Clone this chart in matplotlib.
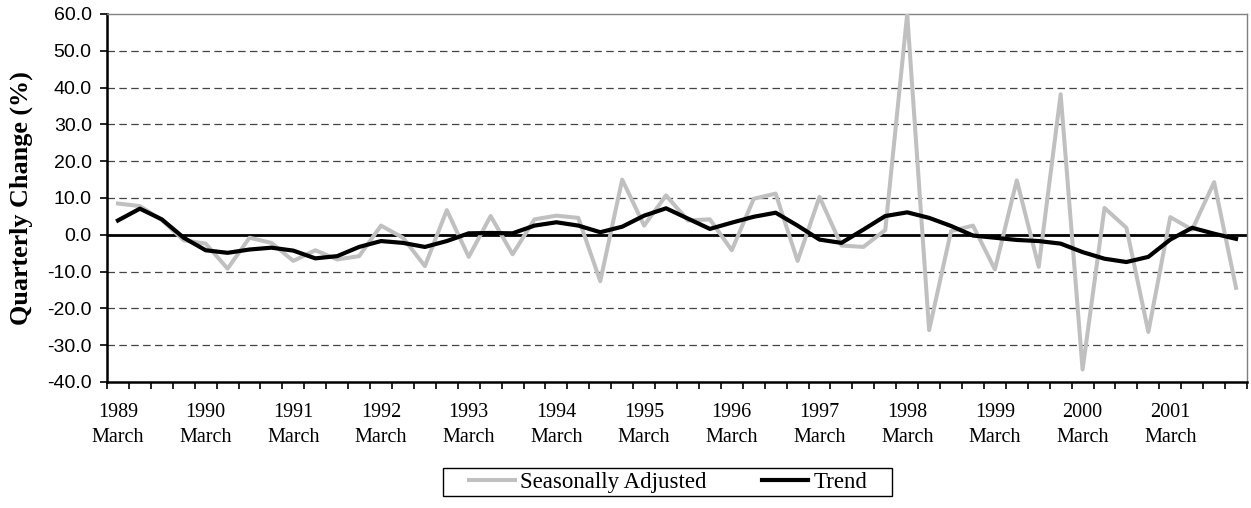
import numpy as np
import matplotlib
matplotlib.use("Agg")
import matplotlib.pyplot as plt
from matplotlib.patches import Rectangle
from matplotlib.ticker import FixedLocator, FuncFormatter

# quarterly, March 1989 .. December 2001
years = list(range(1989, 2002))
seasonally_adjusted = [
    8.5, 7.8, 4.0, -1.5, -2.4, -9.2, -0.8, -2.2, -7.1, -4.2, -6.7, -5.8,
    2.5, -0.8, -8.5, 6.7, -6.0, 5.1, -5.3, 4.2, 5.2, 4.6, -12.6, 15.0,
    2.5, 10.7, 3.9, 4.2, -4.2, 9.8, 11.2, -7.1, 10.3, -2.9, -3.3, 1.3,
    60.0, -25.9, 1.0, 2.5, -9.4, 14.8, -8.7, 38.2, -36.6, 7.3, 1.9, -26.4,
    4.8, 1.4, 14.3, -14.4,
]
trend = [
    3.9, 7.1, 4.2, -0.8, -4.2, -4.9, -4.0, -3.5, -4.3, -6.4, -5.8, -3.3,
    -1.7, -2.2, -3.3, -1.7, 0.4, 0.5, 0.4, 2.5, 3.4, 2.5, 0.7, 2.2,
    5.2, 7.2, 4.4, 1.6, 3.3, 4.9, 6.0, 2.5, -1.3, -2.2, 1.4, 5.1,
    6.1, 4.6, 2.4, -0.2, -0.8, -1.4, -1.7, -2.4, -4.7, -6.5, -7.4, -6.0,
    -1.3, 1.9, 0.3, -1.1,
]

x = np.arange(len(trend))

fig = plt.figure(figsize=(12.51, 5.08), dpi=100)
ax = fig.add_axes([107 / 1251, 1 - 382 / 508, 1140 / 1251, 368 / 508])

ax.plot(x, seasonally_adjusted, color="#c0c0c0", lw=2.9, label="Seasonally Adjusted", zorder=3)
ax.axhline(0, color="black", lw=2.0, zorder=2)
ax.plot(x, trend, color="black", lw=3.0, label="Trend", zorder=4)

ax.set_xlim(-0.5, len(trend) - 0.5)
ax.set_ylim(-40, 60)
ax.set_yticks(np.arange(-40, 61, 10))
ax.yaxis.set_major_formatter(FuncFormatter(lambda v, p: "%.1f" % v))
for v in range(-30, 51, 10):
    if v != 0:
        ax.axhline(v, color="#444444", lw=0.9, dashes=(6, 3.5), zorder=1)

# category ticks at the boundaries, labels every March
ax.xaxis.set_minor_locator(FixedLocator(np.arange(-0.5, len(trend), 1)))
ax.set_xticks(np.arange(0, len(trend), 4))
ax.set_xticklabels(["%d\nMarch" % y for y in years], fontfamily="Liberation Serif",
                   fontsize=14.5, linespacing=1.45)
ax.tick_params(axis="x", which="major", length=0, pad=15)
ax.tick_params(axis="x", which="minor", length=5, width=1.2, direction="out")
ax.tick_params(axis="y", length=5, width=1.2, direction="out", pad=6)
for lab in ax.get_yticklabels():
    lab.set_fontfamily("Liberation Sans")
    lab.set_fontsize(14)

for s in ["left", "bottom"]:
    ax.spines[s].set_color("black")
    ax.spines[s].set_linewidth(1.8)
for s in ["top", "right"]:
    ax.spines[s].set_color("#808080")
    ax.spines[s].set_linewidth(1.0)

ax.set_ylabel("Quarterly Change (%)", fontfamily="Liberation Serif", fontweight="bold", fontsize=18.8)
ax.yaxis.set_label_coords(-0.065, 0.5)

# legend without its own frame, boxed by a wider rectangle like the original
leg = fig.legend(loc="center", bbox_to_anchor=(668 / 1251, 1 - 482 / 508), ncol=2,
                 prop={"family": "Liberation Serif", "size": 16.5}, frameon=False,
                 borderpad=0.1, handlelength=2.0, handletextpad=0.25,
                 columnspacing=2.4, borderaxespad=0)
fig.patches.append(Rectangle((443 / 1251, 1 - 496 / 508), 449 / 1251, 28 / 508,
                             transform=fig.transFigure, fill=False, edgecolor="black", lw=1.0))

fig.savefig("out.png", dpi=100)
